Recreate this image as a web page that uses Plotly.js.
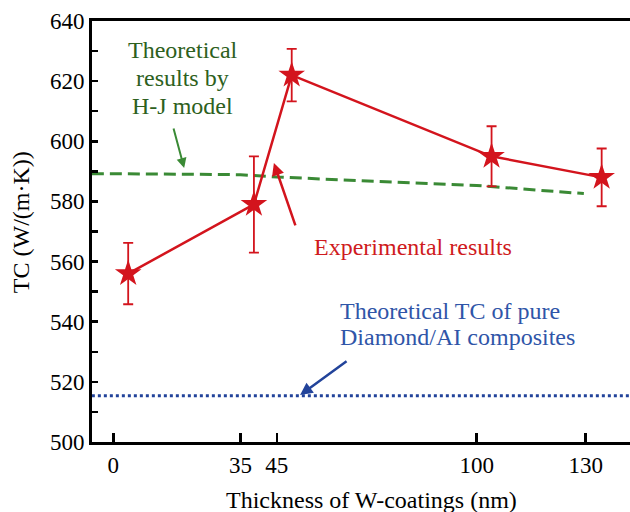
<!DOCTYPE html>
<html><head><meta charset="utf-8">
<script src="https://cdn.plot.ly/plotly-3.0.1.min.js"></script>
<style>html,body{margin:0;padding:0;background:#fff;}#chart{width:630px;height:512px;}</style>
</head><body><div id="chart"></div>
<script>
// Experimental results
const expX = [4.1, 38.7, 49.1, 104.1, 134.4];
const expY = [556, 579, 622, 595, 588];
const expErr = [10.2, 16, 8.7, 10, 9.6];
// Theoretical (H-J model)
const hjX = [-5.9, 0, 35, 45, 100, 129.5];
const hjY = [589.2, 589.2, 588.9, 588.1, 585.3, 582.6];
// Theoretical TC of pure Diamond/Al composites
const pureX = [-5.9, 142.2];
const pureY = [515.4, 515.4];
// Axis ticks
const xTicks = [0, 35, 45, 100, 130];
const yTicks = [500, 520, 540, 560, 580, 600, 620, 640];
// Texts
const xTitle = 'Thickness of W-coatings (nm)';
const yTitle = 'TC (W/(m·K))';
const hjLines = ['Theoretical', 'results by', 'H-J model'];
const pureLines = ['Theoretical TC of pure', 'Diamond/AI composites'];
const expLabel = 'Experimental results';

const serif = 'Liberation Serif, Times New Roman, serif';
const red = '#d3141d', green = '#3a8a35', blue = '#22439a';
const greenText = '#2d6020', blueText = '#2f55a8', redText = '#cf1a20';

const traces = [
  {x: pureX, y: pureY, mode: 'lines', line: {color: blue, width: 3, dash: '3px,3px'}, hoverinfo: 'skip'},
  {x: hjX, y: hjY, mode: 'lines', line: {color: green, width: 3, dash: '12px,6px'}, hoverinfo: 'skip'},
  {x: expX, y: expY, mode: 'lines+markers',
   line: {color: red, width: 2.5},
   marker: {symbol: 'star', size: 20, color: red},
   error_y: {type: 'data', array: expErr, visible: true, color: red, thickness: 1.8, width: 5}}
];

const hjYs = [630.36, 621.04, 611.9];
const pureYs = [543.56, 534.91];
const annotations = [];
hjLines.forEach((t, i) => annotations.push({x: 19.18, y: hjYs[i], xref: 'x', yref: 'y', text: t, showarrow: false,
  font: {family: serif, size: 24, color: greenText}, xanchor: 'center', yanchor: 'middle'}));
pureLines.forEach((t, i) => annotations.push({x: 61.9, y: pureYs[i], xref: 'x', yref: 'y', text: t, showarrow: false,
  font: {family: serif, size: 24, color: blueText}, xanchor: 'left', yanchor: 'middle'}));
annotations.push(
  {x: 54.7, y: 564.84, xref: 'x', yref: 'y', text: expLabel, showarrow: false,
   font: {family: serif, size: 24, color: redText}, xanchor: 'left', yanchor: 'middle'},
  {x: 19.5, y: 591.1, xref: 'x', yref: 'y', ax: -11, ay: -41, text: '', showarrow: true,
   arrowhead: 2, arrowsize: 1, arrowwidth: 2, arrowcolor: green},
  {x: 44.2, y: 592.8, xref: 'x', yref: 'y', ax: 22, ay: 64, text: '', showarrow: true,
   arrowhead: 2, arrowsize: 1, arrowwidth: 2.5, arrowcolor: red},
  {x: 51.4, y: 515.6, xref: 'x', yref: 'y', ax: 48, ay: -35, text: '', showarrow: true,
   arrowhead: 2, arrowsize: 1, arrowwidth: 2.5, arrowcolor: blue},
  {x: 0.5204, y: -0.1378, xref: 'paper', yref: 'paper', text: xTitle, showarrow: false,
   font: {family: serif, size: 24, color: '#000'}, xanchor: 'center', yanchor: 'middle'},
  {x: -0.1307, y: 0.5214, xref: 'paper', yref: 'paper', text: yTitle, showarrow: false, textangle: -90,
   font: {family: serif, size: 24, color: '#000'}, xanchor: 'center', yanchor: 'middle'}
);

const layout = {
  width: 630, height: 512,
  margin: {l: 92, r: 0, t: 21, b: 70},
  showlegend: false,
  paper_bgcolor: '#fff', plot_bgcolor: '#fff',
  font: {family: serif, color: '#000'},
  xaxis: {
    range: [-5.86, 142.2], tickvals: xTicks, ticktext: xTicks.map(String),
    ticks: 'inside', ticklen: 9, tickwidth: 2.5, tickcolor: '#000',
    showline: true, linewidth: 3, linecolor: '#000', mirror: true,
    showgrid: false, zeroline: false,
    tickfont: {family: serif, size: 23, color: '#000'}
  },
  yaxis: {
    range: [500, 640], tickvals: yTicks, ticktext: yTicks.map(String),
    ticks: 'inside', ticklen: 6, tickwidth: 2.5, tickcolor: '#000',
    minor: {dtick: 10, ticks: 'inside', ticklen: 6, tickwidth: 2.5, tickcolor: '#000'},
    showline: true, linewidth: 3, linecolor: '#000', mirror: false,
    showgrid: false, zeroline: false,
    tickfont: {family: serif, size: 23, color: '#000'}
  },
  annotations: annotations
};
Plotly.newPlot('chart', traces, layout, {staticPlot: true, displayModeBar: false});
</script></body></html>
